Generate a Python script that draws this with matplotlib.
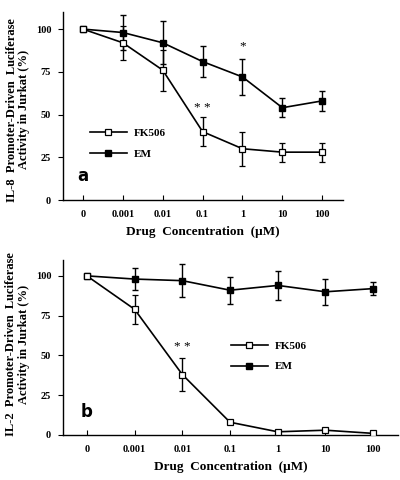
import numpy as np
import matplotlib
matplotlib.use("Agg")
import matplotlib.pyplot as plt
from matplotlib.lines import Line2D

# shared x categories (drug concentration, uM)
conc = ["0", "0.001", "0.01", "0.1", "1", "10", "100"]

# panel a: IL-8
a_fk = [100, 92, 76, 40, 30, 28, 28]
a_fk_err = [0, 10, 12, 8.5, 10, 5.5, 5.5]
a_em = [100, 98, 92, 81, 72, 54, 58]
a_em_err = [0, 10, 12.5, 9, 10.5, 5.5, 6]

# panel b: IL-2
b_fk = [100, 79, 38, 8, 2, 3, 1]
b_fk_err = [0, 9, 10.3, 0, 0, 0, 0]
b_em = [100, 98, 97, 91, 94, 90, 92]
b_em_err = [0, 7, 10.5, 8.5, 9.3, 8, 4]

SERIF = "Liberation Serif"
plt.rcParams["font.family"] = SERIF
plt.rcParams["font.weight"] = "bold"
plt.rcParams["axes.labelweight"] = "bold"

MS = 4.8


def draw(ax, fk, fk_err, em, em_err, ylabel, letter, stars, leg_xy):
    x = np.arange(len(conc))
    ax.errorbar(x, em, yerr=em_err, color="black", lw=1.2, elinewidth=1.0,
                capsize=2.5, capthick=1.0, marker="s", ms=MS, mfc="black",
                mec="black", zorder=3)
    ax.errorbar(x, fk, yerr=fk_err, color="black", lw=1.2, elinewidth=1.0,
                capsize=2.5, capthick=1.0, marker="s", ms=MS, mfc="white",
                mec="black", mew=0.9, zorder=4)
    for idx, s, yv in stars:
        ax.text(x[idx], yv, s, ha="center", va="center", fontsize=9.5,
                fontweight="normal")
    ax.set_xlim(-0.5, 6.52)
    ax.set_ylim(0, 110)
    ax.set_xticks(x)
    ax.set_xticklabels(conc)
    ax.set_yticks([0, 25, 50, 75, 100])
    for sp in ("top", "right"):
        ax.spines[sp].set_visible(False)
    ax.spines["left"].set_linewidth(1.0)
    ax.spines["bottom"].set_linewidth(1.0)
    ax.tick_params(axis="x", direction="in", length=3.5, labelsize=7.5, pad=7)
    ax.tick_params(axis="y", direction="out", length=3.5, labelsize=7.5, pad=5)
    ax.set_xlabel("Drug  Concentration  (\u03bcM)", fontsize=9.5,
                  fontweight="bold", labelpad=5)
    ax.set_ylabel(ylabel, fontsize=9, fontweight="bold", linespacing=1.05)
    ax.text(0.07, 0.13, letter, transform=ax.transAxes, fontsize=12,
            fontweight="bold", family="DejaVu Sans", ha="center", va="center")
    handles = [
        Line2D([], [], color="black", lw=1.2, marker="s", ms=MS, mfc="white",
               mec="black", mew=0.9),
        Line2D([], [], color="black", lw=1.2, marker="s", ms=MS, mfc="black",
               mec="black"),
    ]
    ax.legend(handles, ["FK506", "EM"], loc="upper left", bbox_to_anchor=leg_xy,
              frameon=False, fontsize=8, handlelength=3.4, handletextpad=0.55,
              labelspacing=0.95, borderaxespad=0, borderpad=0)


fig = plt.figure(figsize=(4, 4.8), dpi=100)
ax1 = fig.add_axes([0.1575, 0.5833, 0.70, 0.3917])
ax2 = fig.add_axes([0.1575, 0.0938, 0.8375, 0.3646])

draw(ax1, a_fk, a_fk_err, a_em, a_em_err,
     "IL-8  Promoter-Driven  Luciferase\nActivity in Jurkat (%)", "a",
     [(3, "* *", 54), (4, "*", 90)], (0.095, 0.38))
draw(ax2, b_fk, b_fk_err, b_em, b_em_err,
     "IL-2  Promoter-Driven  Luciferase\nActivity in Jurkat (%)", "b",
     [(2, "* *", 55)], (0.50, 0.535))
ax1.yaxis.set_label_coords(-0.118, 0.48)
ax2.yaxis.set_label_coords(-0.099, 0.52)

fig.savefig("out.png", dpi=100)
